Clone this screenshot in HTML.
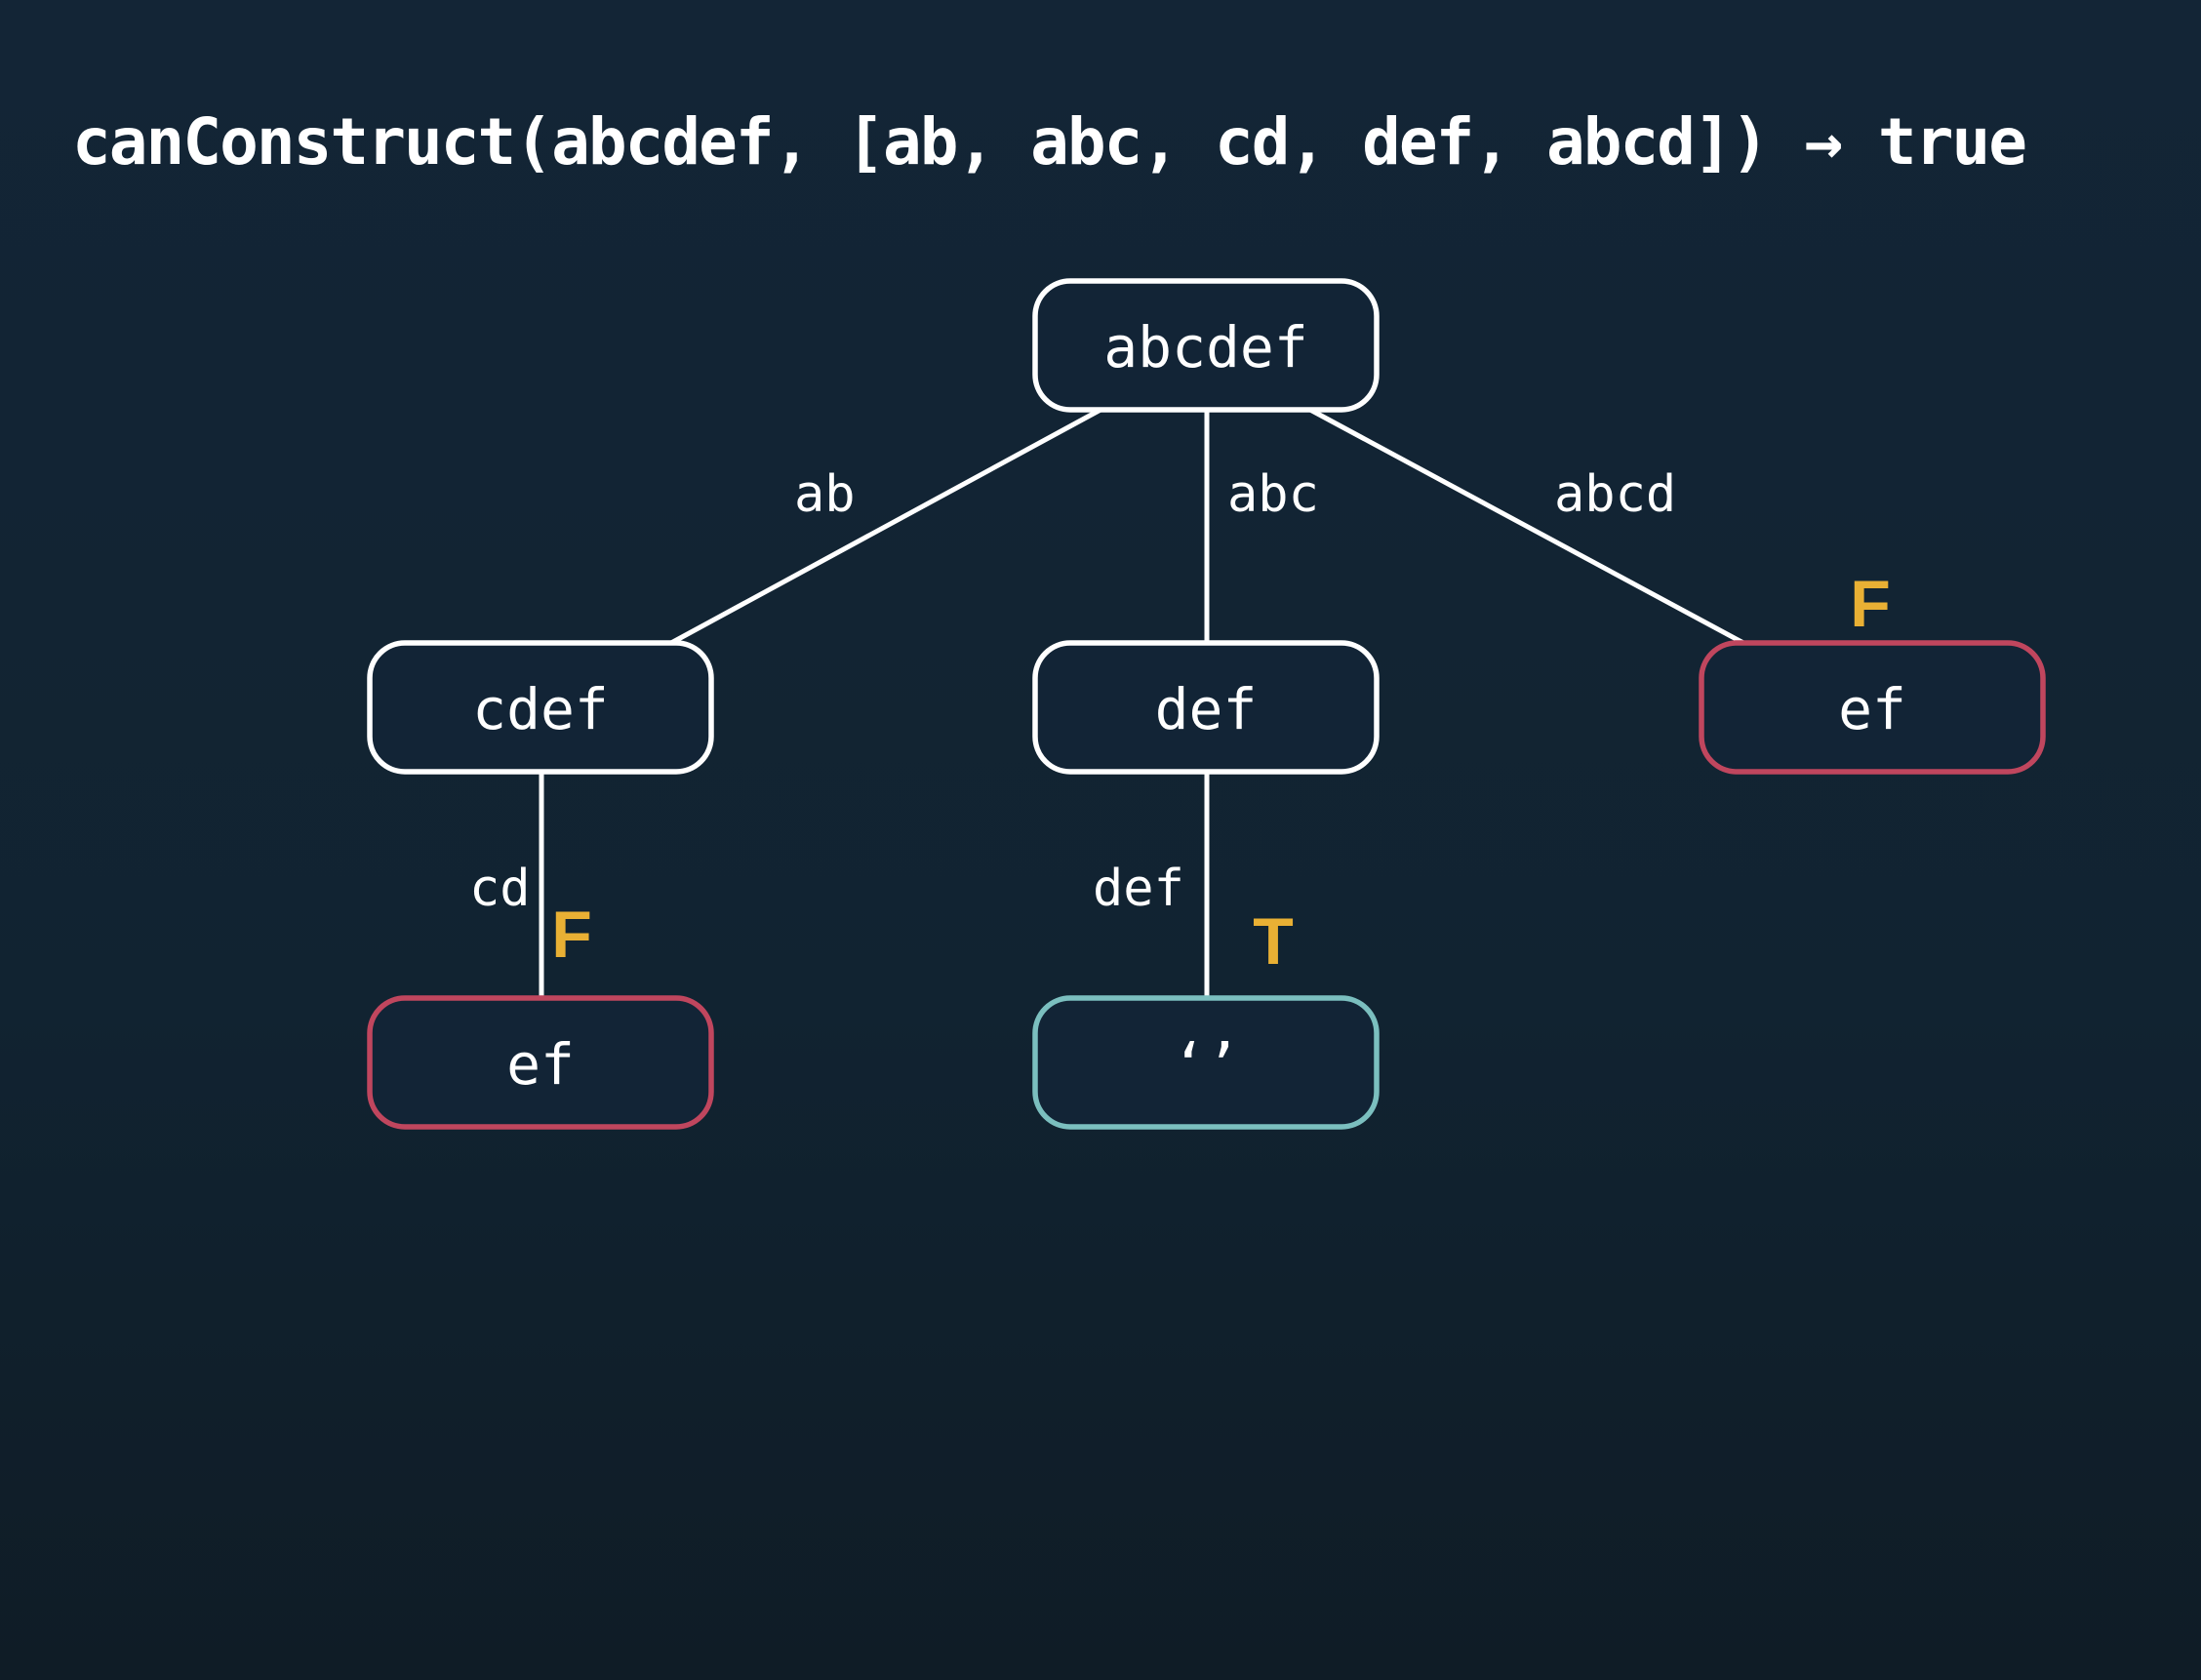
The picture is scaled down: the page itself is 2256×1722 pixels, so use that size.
<!DOCTYPE html>
<html><head><meta charset="utf-8"><style>
html,body{margin:0;padding:0}
body{width:2256px;height:1722px;overflow:hidden;background:linear-gradient(#132536,#112331 60%,#0f1c26);}
</style></head><body>
<svg width="2256" height="1722" xmlns="http://www.w3.org/2000/svg" style="position:absolute;left:0;top:0">
<text x="74" y="168" font-family="DejaVu Sans Mono, Liberation Mono, monospace" font-weight="bold" font-size="66" fill="#ffffff" textLength="2004" lengthAdjust="spacing">canConstruct(abcdef, [ab, abc, cd, def, abcd]) → true</text>
<g stroke="#ffffff" stroke-width="5" fill="none">
<line x1="1128" y1="420" x2="688" y2="659"/>
<line x1="1237" y1="420" x2="1237" y2="659"/>
<line x1="1343" y1="420" x2="1787" y2="659"/>
<line x1="555" y1="791" x2="555" y2="1023"/>
<line x1="1237" y1="791" x2="1237" y2="1023"/>
</g>
<g stroke-width="5.5" fill="#122436">
<rect x="1061" y="288" width="350" height="132" rx="36" stroke="#ffffff"/>
<rect x="379" y="659" width="350" height="132" rx="36" stroke="#ffffff"/>
<rect x="1061" y="659" width="350" height="132" rx="36" stroke="#ffffff"/>
<rect x="1744" y="659" width="350" height="132" rx="36" stroke="#c0465e"/>
<rect x="379" y="1023" width="350" height="132" rx="36" stroke="#c0465e"/>
<rect x="1061" y="1023" width="350" height="132" rx="36" stroke="#7bbfbf"/>
</g>
<g font-family="DejaVu Sans Mono, Liberation Mono, monospace" font-size="58" fill="#ffffff" text-anchor="middle">
<text x="1236" y="376">abcdef</text>
<text x="554" y="747">cdef</text>
<text x="1236" y="747">def</text>
<text x="1919" y="747">ef</text>
<text x="554" y="1111">ef</text>
<text x="1236" y="1111">‘’</text>
</g>
<g font-family="DejaVu Sans Mono, Liberation Mono, monospace" font-size="52" fill="#ffffff">
<text x="814" y="524">ab</text>
<text x="1258" y="524">abc</text>
<text x="1593" y="524">abcd</text>
<text x="481" y="928">cd</text>
<text x="1120" y="928">def</text>
</g>
<g font-family="Liberation Sans, sans-serif" font-weight="bold" font-size="68" fill="#e9b034" text-anchor="middle">
<text x="1917" y="642">F</text>
<text x="586" y="981">F</text>
<text x="1305" y="988">T</text>
</g>
</svg>
</body></html>
